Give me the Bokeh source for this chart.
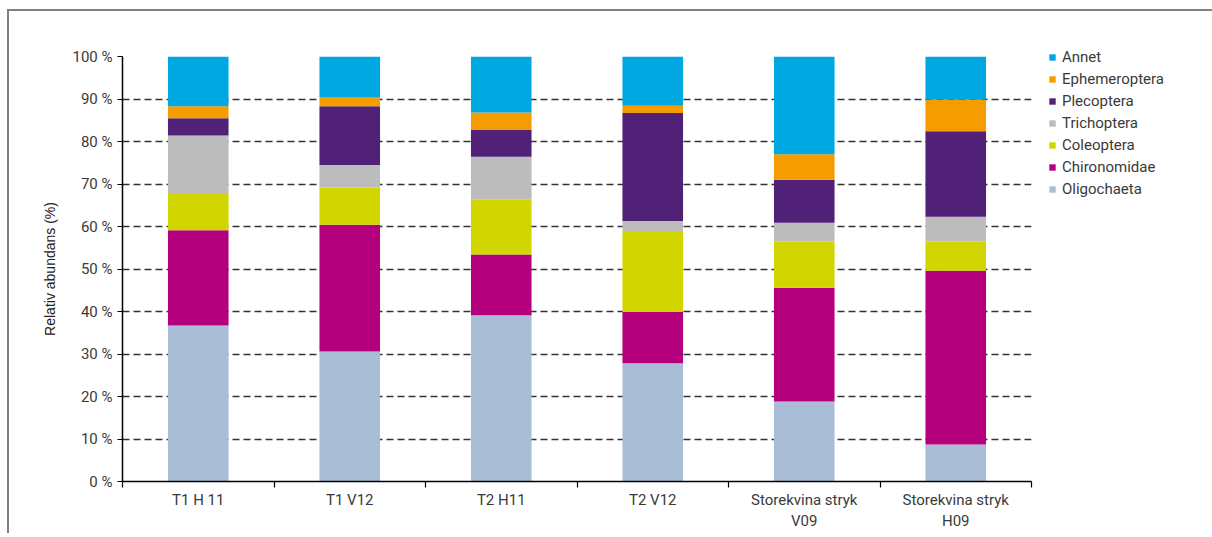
from bokeh.plotting import figure
from bokeh.models import (ColumnDataSource, Legend, LegendItem, FixedTicker,
                          Range1d, CustomJSTickFormatter)
from bokeh.embed import file_html
from bokeh.resources import INLINE

sites = ["T1 H 11", "T1 V12", "T2 H11", "T2 V12", "Storekvina stryk\nV09", "Storekvina stryk\nH09"]
groups = ["Oligochaeta", "Chironomidae", "Coleoptera", "Trichoptera", "Plecoptera", "Ephemeroptera", "Annet"]
colors = ["#A9BDD6", "#B5007D", "#D2D600", "#BCBCBC", "#512178", "#F59C00", "#00A8E1"]

oligochaeta = [36.7, 30.6, 39.1, 27.8, 18.8, 8.7]
chironomidae = [22.4, 29.8, 14.3, 12.1, 26.8, 40.9]
coleoptera = [8.8, 8.8, 12.9, 18.8, 10.9, 6.9]
trichoptera = [13.5, 5.3, 10.1, 2.6, 4.4, 5.8]
plecoptera = [4.1, 13.8, 6.3, 25.4, 10.1, 20.1]
ephemeroptera = [2.8, 2.2, 4.1, 1.7, 6.0, 7.4]
annet = [11.7, 9.5, 13.2, 11.6, 23.0, 10.2]

yticks = [0, 10, 20, 30, 40, 50, 60, 70, 80, 90, 100]

x = [i + 0.5 for i in range(len(sites))]
data = dict(x=x, Oligochaeta=oligochaeta, Chironomidae=chironomidae, Coleoptera=coleoptera,
            Trichoptera=trichoptera, Plecoptera=plecoptera, Ephemeroptera=ephemeroptera, Annet=annet)
src = ColumnDataSource(data)

FONT = "Roboto"
TXT = "#3a3a3a"

p = figure(frame_width=909, frame_height=425, output_backend="svg", toolbar_location=None,
           x_range=Range1d(0, len(sites)), y_range=Range1d(0, 100),
           min_border_left=113, min_border_top=45, min_border_bottom=50, min_border_right=165)
p.styles = {"border-top": "2px solid #808080", "border-left": "2px solid #808080",
            "margin-left": "7px", "margin-top": "9px"}
p.outline_line_color = None

renderers = p.vbar_stack(groups, x="x", width=0.4, source=src, color=colors, line_color=None)

# grid
p.xgrid.grid_line_color = None
p.ygrid.ticker = FixedTicker(ticks=yticks[1:])
p.ygrid.grid_line_color = "#333333"
p.ygrid.grid_line_dash = "7 4"
p.ygrid.grid_line_width = 1.3

# y axis
p.yaxis.ticker = FixedTicker(ticks=yticks)
p.yaxis.formatter = CustomJSTickFormatter(code="return tick.toFixed(0) + ' %';")
p.yaxis.axis_line_color = "black"
p.yaxis.axis_line_width = 1.5
p.yaxis.major_tick_line_color = "black"
p.yaxis.major_tick_in = 0
p.yaxis.major_tick_out = 5
p.yaxis.minor_tick_line_color = None
p.yaxis.major_label_text_font = FONT
p.yaxis.major_label_text_font_size = "15px"
p.yaxis.major_label_text_color = TXT
p.yaxis.major_label_standoff = 5
p.yaxis.axis_label = "Relativ abundans (%)"
p.yaxis.axis_label_text_font = "Liberation Sans"
p.yaxis.axis_label_text_font_style = "normal"
p.yaxis.axis_label_text_font_size = "14px"
p.yaxis.axis_label_text_color = "#222222"
p.yaxis.axis_label_standoff = 12

# x axis
p.xaxis.ticker = FixedTicker(ticks=x, minor_ticks=list(range(len(sites) + 1)))
p.xaxis.major_label_overrides = {xi: s for xi, s in zip(x, sites)}
p.xaxis.axis_line_color = "black"
p.xaxis.axis_line_width = 1.5
p.xaxis.major_tick_line_color = None
p.xaxis.major_tick_in = 0
p.xaxis.major_tick_out = 0
p.xaxis.minor_tick_line_color = "black"
p.xaxis.minor_tick_line_width = 1.2
p.xaxis.minor_tick_in = 0
p.xaxis.minor_tick_out = 6
p.xaxis.major_label_text_font = FONT
p.xaxis.major_label_text_font_size = "15px"
p.xaxis.major_label_text_color = TXT
p.xaxis.major_label_standoff = 3

items = [LegendItem(label=g, renderers=[r]) for g, r in zip(groups, renderers)][::-1]
legend = Legend(items=items, location=(17, 283), orientation="vertical",
                glyph_width=8, glyph_height=8, label_height=16, spacing=4,
                padding=0, margin=0, border_line_color=None, background_fill_alpha=0,
                label_text_font=FONT, label_text_font_size="15px", label_text_color=TXT,
                label_standoff=6)
p.add_layout(legend, "right")

open("out.html", "w").write(file_html(p, INLINE))
